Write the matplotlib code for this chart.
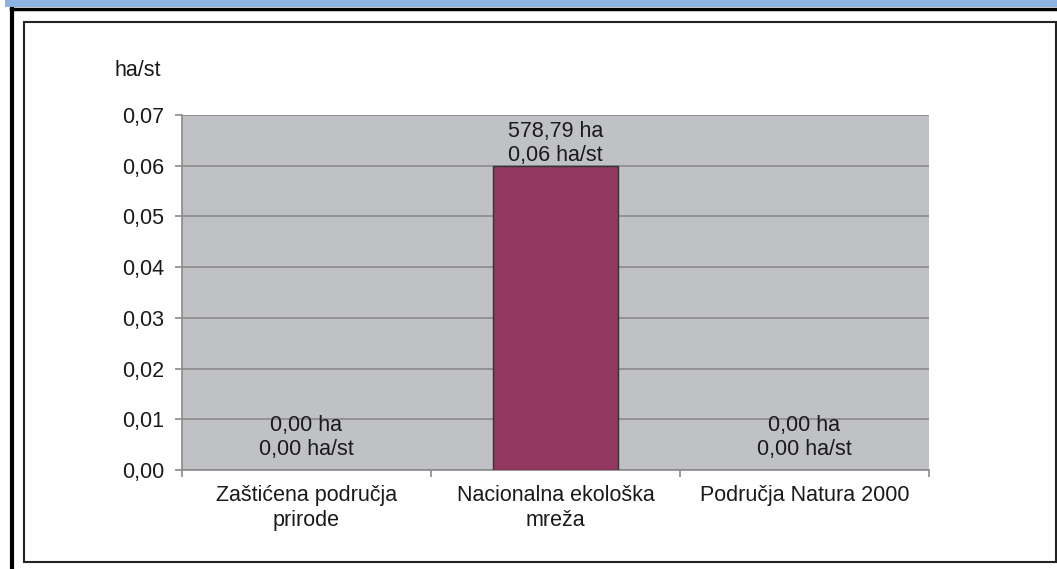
import matplotlib.pyplot as plt
from matplotlib.patches import Rectangle
from matplotlib.lines import Line2D

plt.rcParams['font.family'] = ['Liberation Sans', 'DejaVu Sans']

## Data
categories = ['Zaštićena područja\nprirode', 'Nacionalna ekološka\nmreža', 'Područja Natura 2000']
area_ha = [0.00, 578.79, 0.00]
per_capita = [0.00, 0.06, 0.00]
y_ticks = [0.00, 0.01, 0.02, 0.03, 0.04, 0.05, 0.06, 0.07]

W, H = 1057, 569
FS = 15.5
fig = plt.figure(figsize=(W / 100, H / 100), dpi=100)
fig.patch.set_facecolor('white')


# helpers to place things in pixel units measured from the top-left corner
def fx(x):
    return x / W


def fy(y):
    return 1 - y / H


# Blue caption strip at the very top and the two frames around the chart
fig.add_artist(Rectangle((fx(5), fy(7)), 1 - fx(5), 7 / H, transform=fig.transFigure,
                         facecolor='#8db3e2', edgecolor='none'))
fig.add_artist(Line2D([fx(12), fx(12)], [fy(9), 0], transform=fig.transFigure,
                      color='black', linewidth=3))
fig.add_artist(Line2D([fx(11), 1], [fy(8.5), fy(8.5)], transform=fig.transFigure,
                      color='black', linewidth=2.5))
fig.add_artist(Rectangle((fx(24), fy(562)), fx(1056) - fx(24), (562 - 22) / H,
                         transform=fig.transFigure, facecolor='none',
                         edgecolor='#222222', linewidth=1.5))

## Plot area
ax = fig.add_axes([fx(182), fy(470), fx(929) - fx(182), (470 - 115) / H])
ax.set_facecolor('#c0c1c5')

x = range(len(categories))
edges = ['#333333' if v > 0 else 'none' for v in per_capita]
bars = ax.bar(x, per_capita, width=0.5, color='#943862', edgecolor=edges,
              linewidth=1, zorder=3)

ax.set_xlim(-0.5, len(categories) - 0.5)
ax.set_ylim(0, 0.07)
ax.set_yticks(y_ticks)
ax.set_yticklabels([f'{v:.2f}'.replace('.', ',') for v in y_ticks])
ax.yaxis.grid(True, color='#8a8a8a', linewidth=1.2, zorder=1)
ax.set_axisbelow(True)

# category ticks sit on the boundaries, labels in the middle
ax.set_xticks([i - 0.5 for i in range(len(categories) + 1)])
ax.set_xticklabels([])
ax.set_xticks(list(x), minor=True)
ax.set_xticklabels(categories, minor=True, fontsize=FS, color='#1a1a1a', linespacing=1.25)
ax.tick_params(axis='x', which='minor', length=0, pad=11)
ax.tick_params(axis='x', which='major', length=5, color='#8a8a8a', width=1.2)
ax.tick_params(axis='y', length=5, color='#8a8a8a', width=1.2, pad=8,
               labelsize=FS, labelcolor='#1a1a1a')

for side in ['top', 'right']:
    ax.spines[side].set_visible(False)
for side in ['left', 'bottom']:
    ax.spines[side].set_color('#8a8a8a')
    ax.spines[side].set_linewidth(1.2)

# value labels: hectares and hectares per inhabitant
for b, ha, pc in zip(bars, area_ha, per_capita):
    label = f'{ha:.2f} ha\n{pc:.2f} ha/st'.replace('.', ',')
    offset = 7 if pc == 0 else 0
    ax.annotate(label, (b.get_x() + b.get_width() / 2, pc), xytext=(0, offset),
                textcoords='offset points', ha='center', va='bottom',
                fontsize=FS, color='#1a1a1a', linespacing=1.2, zorder=4)

fig.text(fx(114), fy(70), 'ha/st', fontsize=FS, color='#1a1a1a', va='center', ha='left')

fig.savefig('out.png', dpi=100)
